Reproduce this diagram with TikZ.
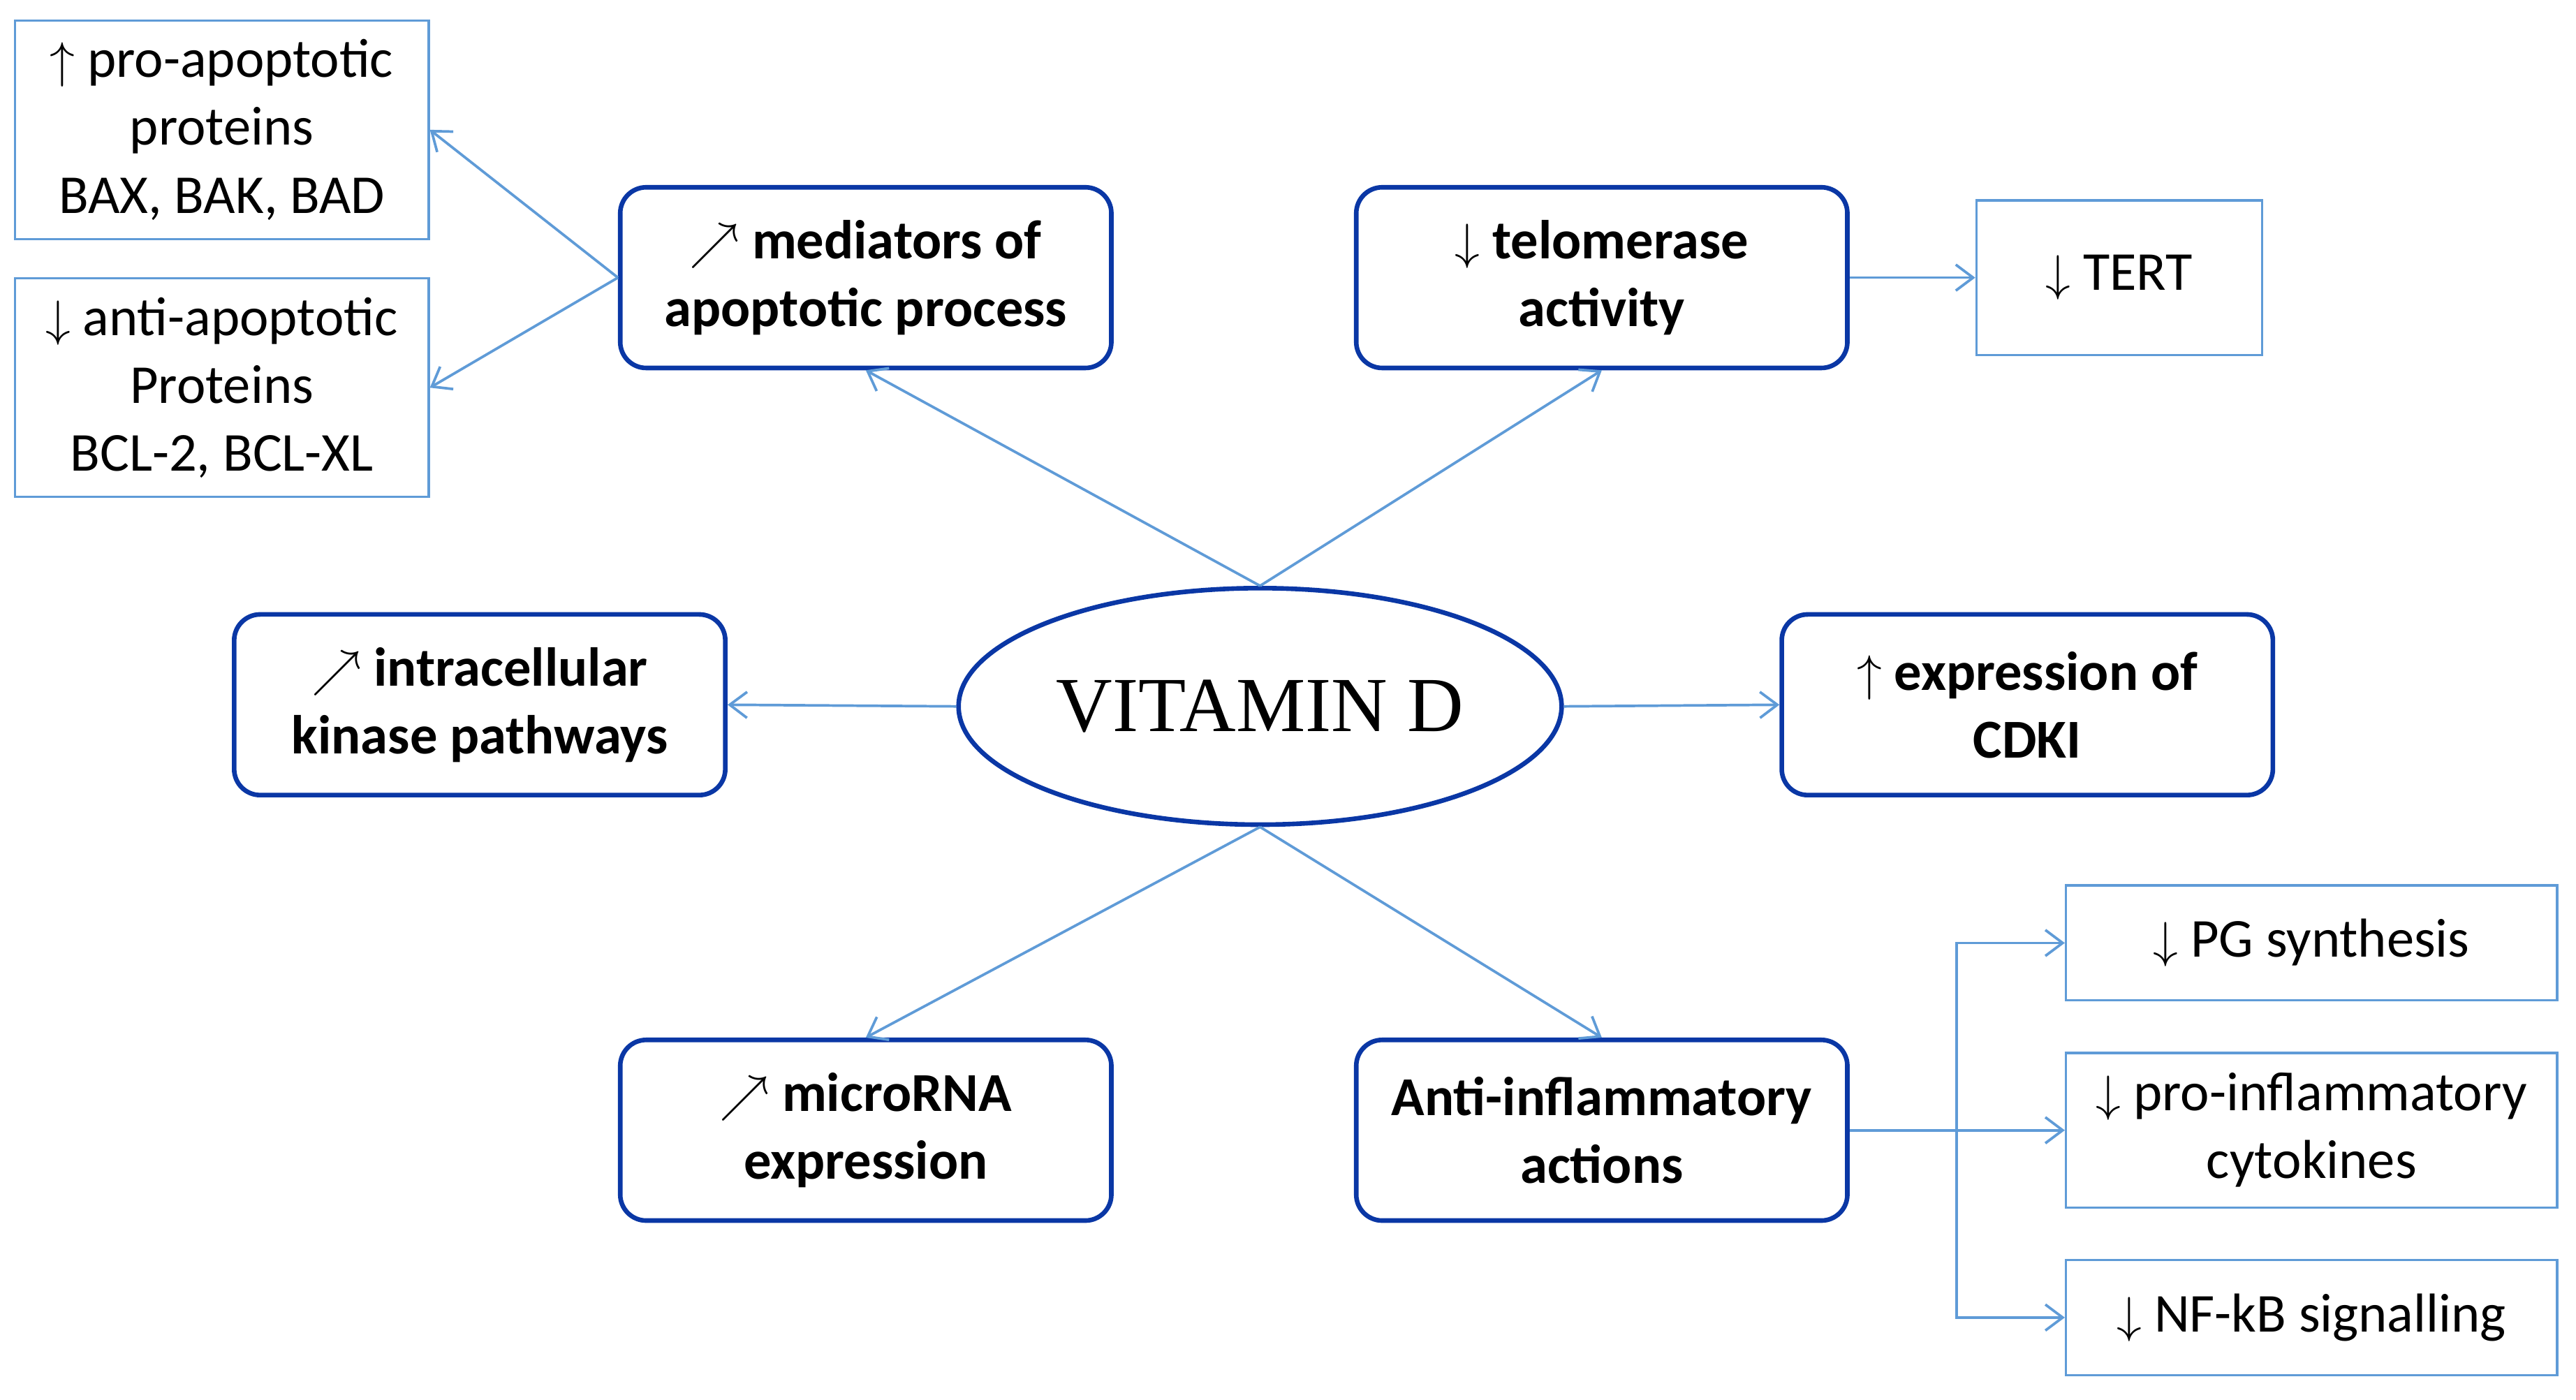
\documentclass[tikz,border=0pt]{standalone}
\usepackage{fontspec}
\setmainfont{Carlito}
\newfontfamily\vitfont{Liberation Serif}
\usetikzlibrary{arrows.meta,shapes.geometric}
\definecolor{boxblue}{RGB}{10,55,165}
\definecolor{arrblue}{RGB}{95,155,215}
\tikzset{
	effect/.style={draw=boxblue, line width=1.6pt, rounded corners=9pt, align=center,
		minimum width=5.98cm, minimum height=2.2cm, font=\fontsize{19}{23.5}\selectfont\bfseries},
	detail/.style={draw=arrblue, line width=0.8pt, align=center,
		font=\fontsize{19}{23.5}\selectfont},
	link/.style={draw=arrblue, line width=0.9pt, -{Straight Barb[length=6pt,width=9pt]}}
}
\begin{document}
\begin{tikzpicture}[x=0.02cm, y=-0.02cm]
	\useasboundingbox (0,0) rectangle (1568,852);
	\node[draw=boxblue, line width=1.6pt, ellipse, minimum width=7.08cm, minimum height=2.88cm,
		font=\vitfont\fontsize{27}{30}\selectfont] (vitD) at (767,430) {VITAMIN D};

	\node[effect] (med) at (527,169) {$\nearrow$ mediators of\\ apoptotic process};
	\node[effect] (telo) at (975,169) {$\downarrow$ telomerase\\ activity};
	\node[effect] (kin) at (292,429) {$\nearrow$ intracellular\\ kinase pathways};
	\node[effect] (cdki) at (1234,429) {$\uparrow$ expression of\\ CDKI};
	\node[effect] (mirna) at (527,688) {$\nearrow$ microRNA\\ expression};
	\node[effect] (anti) at (975,688) {Anti-inflammatory\\ actions};

	\node[detail, minimum width=5.04cm, minimum height=2.66cm] (proap) at (135,79) {$\uparrow$ pro-apoptotic\\ proteins\\ BAX, BAK, BAD};
	\node[detail, minimum width=5.04cm, minimum height=2.66cm] (antiap) at (135,236) {$\downarrow$ anti-apoptotic\\ Proteins\\ BCL-2, BCL-XL};
	\node[detail, minimum width=3.48cm, minimum height=1.88cm] (tert) at (1290,169) {$\downarrow$ TERT};
	\node[detail, minimum width=5.98cm, minimum height=1.4cm] (pg) at (1407,574) {$\downarrow$ PG synthesis};
	\node[detail, minimum width=5.98cm, minimum height=1.88cm] (cyto) at (1407,688) {$\downarrow$ pro-inflammatory\\ cytokines};
	\node[detail, minimum width=5.98cm, minimum height=1.4cm] (nfkb) at (1407,802) {$\downarrow$ NF-kB signalling};

	\draw[link] (vitD.north) -- (med.south);
	\draw[link] (vitD.north) -- (telo.south);
	\draw[link] (vitD.west) -- (kin.east);
	\draw[link] (vitD.east) -- (cdki.west);
	\draw[link] (vitD.south) -- (mirna.north);
	\draw[link] (vitD.south) -- (anti.north);

	\draw[link] (med.west) -- (proap.east);
	\draw[link] (med.west) -- (antiap.east);
	\draw[link] (telo.east) -- (tert.west);

	\coordinate (fork) at (1191,688);
	\draw[link] (anti.east) -- (cyto.west);
	\draw[link] (fork) |- (pg.west);
	\draw[link] (fork) |- (nfkb.west);
\end{tikzpicture}
\end{document}
